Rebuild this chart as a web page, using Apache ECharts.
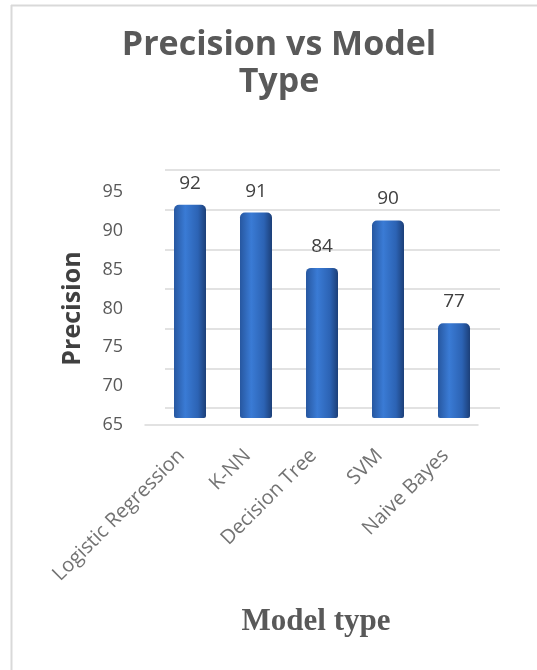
<!DOCTYPE html>
<html>
<head>
<meta charset="utf-8">
<script src="https://cdn.jsdelivr.net/npm/echarts@6/dist/echarts.min.js"></script>
<style>html,body{margin:0;padding:0;background:#fff}#c{width:537px;height:670px}</style>
</head>
<body>
<div id="c"></div>
<script>
const categories = ['Logistic Regression', 'K-NN', 'Decision Tree', 'SVM', 'Naive Bayes'];
const precision = [92, 91, 84, 90, 77];
const yMin = 65, yMax = 95, yStep = 5;

const chart = echarts.init(document.getElementById('c'));
const barColor = new echarts.graphic.LinearGradient(0, 0, 1, 0, [
  {offset: 0, color: '#2757a0'},
  {offset: 0.35, color: '#3a7bd5'},
  {offset: 0.75, color: '#2c63b4'},
  {offset: 1, color: '#1c3f78'}
]);
chart.setOption({
  backgroundColor: '#fff',
  title: [
    {text: 'Precision vs Model\nType', left: 274, top: 22, textAlign: 'center',
     textStyle: {fontFamily: 'Open Sans', fontWeight: 'bold', fontSize: 34, color: '#595959', lineHeight: 37}},
    {text: 'Model type', left: 311, top: 601, textAlign: 'center',
     textStyle: {fontFamily: 'Liberation Serif', fontWeight: 'bold', fontSize: 31, color: '#595959'}}
  ],
  graphic: [
    {type: 'line', shape: {x1: 11.5, y1: 5, x2: 11.5, y2: 670}, style: {stroke: '#d9d9d9', lineWidth: 2}},
    {type: 'line', shape: {x1: 11, y1: 5.5, x2: 537, y2: 5.5}, style: {stroke: '#d9d9d9', lineWidth: 2}}
  ],
  grid: [
    {left: 157, right: 50, top: 181, bottom: 252},
    {left: 165, right: 37, top: 170, bottom: 262},
    {left: 145, right: 59, top: 192, bottom: 245}
  ],
  xAxis: [
    {type: 'category', gridIndex: 0, data: categories,
     axisLine: {show: false}, axisTick: {show: false},
     axisLabel: {rotate: 45, margin: 26, padding: [0, 12, 0, 0], color: '#737373', fontSize: 20, fontFamily: 'Open Sans', interval: 0}},
    {type: 'category', gridIndex: 1, data: categories, show: false},
    {type: 'category', gridIndex: 2, data: categories,
     axisLine: {lineStyle: {color: '#d9d9d9', width: 1.5}}, axisTick: {show: false}, axisLabel: {show: false}}
  ],
  yAxis: [
    {type: 'value', gridIndex: 0, min: yMin, max: yMax, interval: yStep, show: false},
    {type: 'value', gridIndex: 1, min: yMin, max: yMax, interval: yStep,
     axisLine: {show: false}, axisTick: {show: false}, axisLabel: {show: false},
     splitLine: {lineStyle: {color: '#d9d9d9', width: 1.5}}},
    {type: 'value', gridIndex: 2, min: yMin, max: yMax, interval: yStep,
     name: 'Precision', nameLocation: 'middle', nameGap: 60,
     nameTextStyle: {fontFamily: 'Open Sans', fontWeight: 'bold', fontSize: 25, color: '#404040'},
     axisLine: {show: false}, axisTick: {show: false}, splitLine: {show: false},
     axisLabel: {margin: 22, color: '#595959', fontSize: 18, fontFamily: 'Open Sans'}}
  ],
  series: [{
    type: 'bar', xAxisIndex: 0, yAxisIndex: 0, data: precision, barWidth: 32,
    itemStyle: {color: barColor, borderRadius: [5, 5, 2, 2]},
    label: {show: true, position: 'top', distance: 12, color: '#404040', fontSize: 19, fontFamily: 'Open Sans'}
  }]
});
</script>
</body>
</html>
